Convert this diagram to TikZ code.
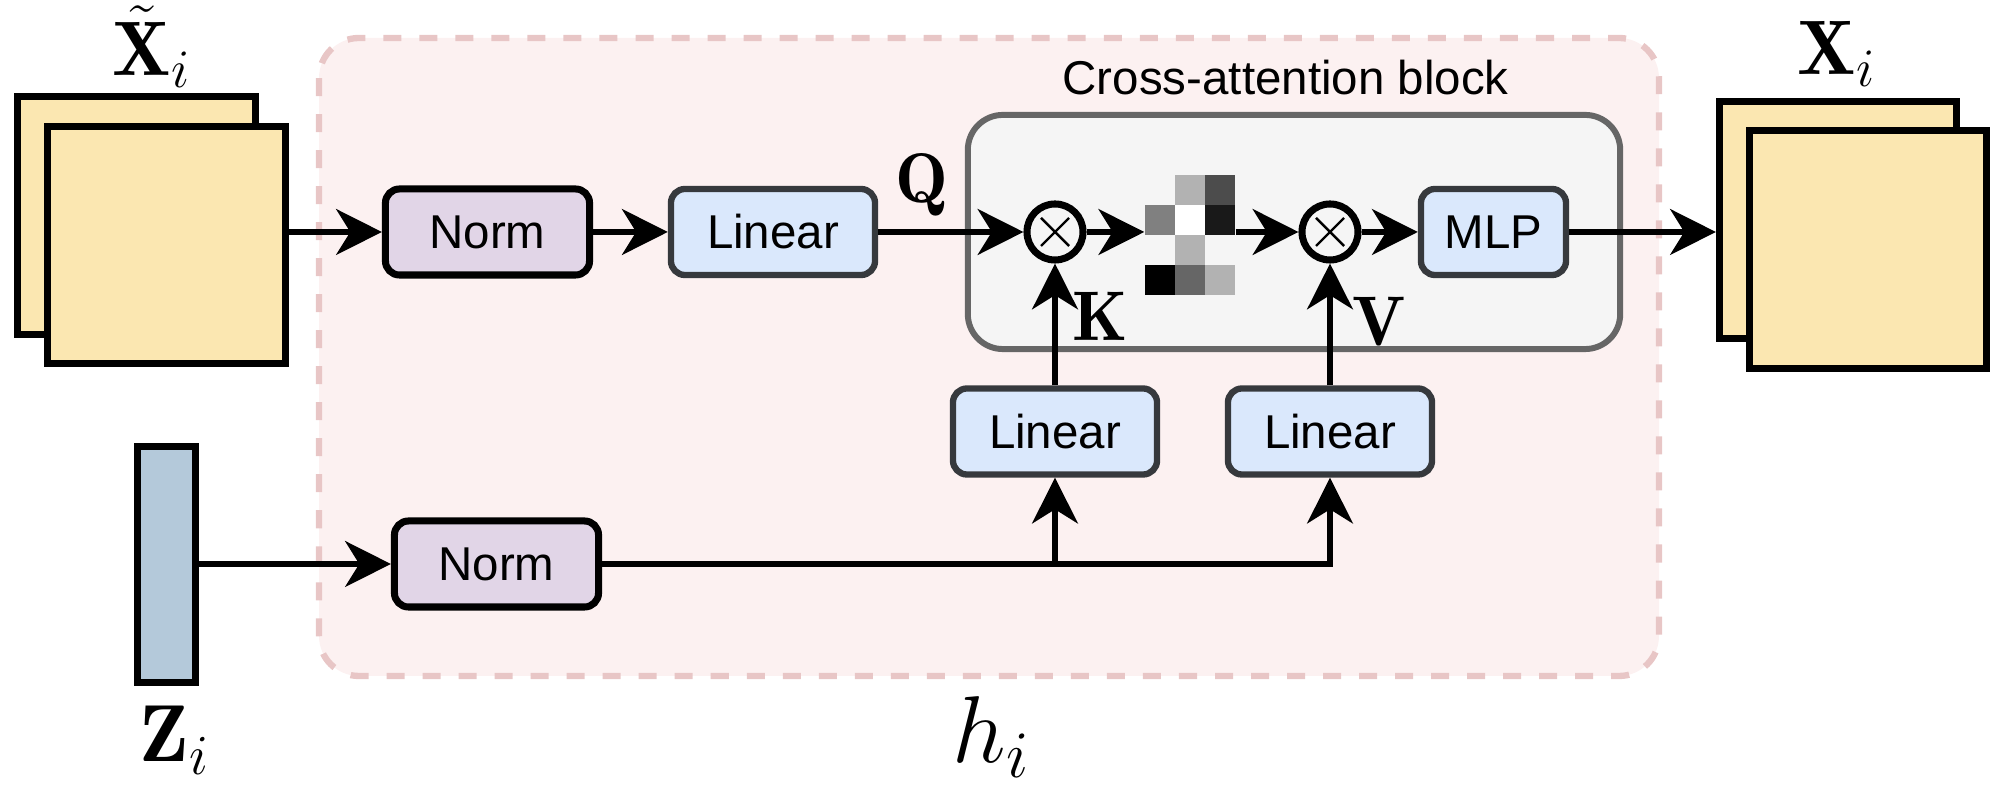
\RequirePackage{fix-cm}
\documentclass[tikz,border=0pt]{standalone}
\usepackage{fontspec}
\newfontfamily\lib{Liberation Sans}
\usetikzlibrary{arrows.meta,calc}
\definecolor{stackfill}{RGB}{251,231,177}
\definecolor{zfill}{RGB}{180,201,218}
\definecolor{normfill}{HTML}{E1D5E7}
\definecolor{linfill}{HTML}{DAE8FC}
\definecolor{lindraw}{HTML}{36393D}
\definecolor{crossfill}{HTML}{F5F5F5}
\definecolor{crossdraw}{HTML}{666666}
\definecolor{hfill}{HTML}{FCF1F1}
\definecolor{hdraw}{HTML}{E8C6C6}
\begin{document}
\begin{tikzpicture}[x=0.01cm,y=-0.01cm,
  box/.style={rectangle, rounded corners=4pt, inner sep=0pt, font=\lib\fontsize{13.5pt}{15pt}\selectfont},
  normbox/.style={box, fill=normfill, draw=black, line width=2pt, minimum width=2.04cm, minimum height=0.86cm},
  linbox/.style={box, fill=linfill, draw=lindraw, line width=1.8pt, minimum width=2.04cm, minimum height=0.86cm},
  arr/.style={-{Stealth[length=13pt,width=13pt,inset=4pt]}, line width=1.7pt},
  stackbox/.style={draw=black, line width=2pt, fill=stackfill, inner sep=0pt, minimum width=2.37cm, minimum height=2.37cm},
  mathlbl/.style={inner sep=0pt, anchor=base west},
  prod/.style={circle, draw=black, fill=crossfill, line width=2pt, inner sep=0pt, minimum size=0.56cm},
  xline/.style={line width=0.7pt}
]
\useasboundingbox (0,0) rectangle (1999,786);

% h_i dashed region
\draw[hdraw, fill=hfill, line width=1.8pt, dash pattern=on 0.18cm off 0.18cm, rounded corners=0.4cm]
  (319,38) rectangle (1659,676);

% cross-attention block
\node[draw=crossdraw, fill=crossfill, line width=1.7pt, rounded corners=0.35cm, inner sep=0pt,
  minimum width=6.52cm, minimum height=2.34cm] (cab) at (1294,232) {};
\node[anchor=base west, inner sep=0pt, font=\lib\fontsize{13.5pt}{16pt}\selectfont] (cablbl) at (1062,95) {Cross-attention block};

% left stacks
\node[stackbox] (sLb) at (136.5,215.5) {};
\node[stackbox] (sLf) at (166.5,245) {};
\node[mathlbl, font=\fontsize{22pt}{24pt}\selectfont] (xtl) at (112,76) {$\tilde{\mathbf{X}}_i$};

% right stacks
\node[stackbox] (sRb) at (1838,220) {};
\node[stackbox] (sRf) at (1868,249.5) {};
\node[mathlbl, font=\fontsize{22pt}{24pt}\selectfont] (xl) at (1797,75) {$\mathbf{X}_i$};

% z bar
\node[draw=black, line width=2pt, fill=zfill, inner sep=0pt, minimum width=0.58cm, minimum height=2.36cm] (zbar) at (166.5,564.5) {};
\node[mathlbl, font=\fontsize{23pt}{25pt}\selectfont] (zl) at (139,762) {$\mathbf{Z}_i$};

% h label
\node[mathlbl, font=\fontsize{27pt}{29pt}\selectfont] (hl) at (952,763) {$h_i$};

% top row
\node[normbox] (norm1) at (487.5,232) {Norm};
\node[linbox] (lin1) at (773,232) {Linear};
\node[prod] (c1) at (1055,232) {};
\node[inner sep=0pt, minimum width=0.9cm, minimum height=1.2cm] (attn) at (1190,235) {};
\node[prod] (c2) at (1330,232) {};
\node[linbox, minimum width=1.45cm] (mlp) at (1493.5,232) {MLP};

% attention matrix cells
\fill[black!30] (1175,175) rectangle (1205,205);
\fill[black!70] (1205,175) rectangle (1235,205);
\fill[black!50] (1145,205) rectangle (1175,235);
\fill[white]    (1175,205) rectangle (1205,235);
\fill[black!90] (1205,205) rectangle (1235,235);
\fill[black!30] (1175,235) rectangle (1205,265);
\fill[black]    (1145,265) rectangle (1175,295);
\fill[black!60] (1175,265) rectangle (1205,295);
\fill[black!30] (1205,265) rectangle (1235,295);

% crosses in product circles
\foreach \c in {c1,c2}{
  \draw[xline] ([shift={(-0.14cm,-0.14cm)}]\c.center) -- ([shift={(0.14cm,0.14cm)}]\c.center);
  \draw[xline] ([shift={(-0.14cm,0.14cm)}]\c.center) -- ([shift={(0.14cm,-0.14cm)}]\c.center);
}

% bottom row
\node[normbox] (norm2) at (496.5,564) {Norm};
\node[linbox] (linK) at (1055,431.5) {Linear};
\node[linbox] (linV) at (1330,431.5) {Linear};

% labels Q K V
\node[mathlbl, font=\fontsize{20pt}{22pt}\selectfont] (ql) at (895,203) {$\mathbf{Q}$};
\node[mathlbl, font=\fontsize{20pt}{22pt}\selectfont] (kl) at (1072,341) {$\mathbf{K}$};
\node[mathlbl, font=\fontsize{20pt}{22pt}\selectfont] (vl) at (1352,346) {$\mathbf{V}$};

% connectors
\draw[arr] (norm1.west -| sLf.east) -- (norm1.west);
\draw[arr] (norm1.east) -- (lin1.west);
\draw[arr] (lin1.east) -- (c1);
\draw[arr] (c1) -- (c1 -| attn.west);
\draw[arr] (c1 -| attn.east) -- (c2);
\draw[arr] (c2) -- (mlp.west);
\draw[arr] (mlp.east) -- (mlp.east -| sRb.west);

\draw[arr] (zbar.east |- norm2.west) -- (norm2.west);
\draw[arr, rounded corners=0pt] (norm2.east) -| (linV.south);
\draw[arr] (norm2.east -| linK.south) -- (linK.south);
\draw[arr] (linK.north) -- (c1);
\draw[arr] (linV.north) -- (c2);
\end{tikzpicture}
\end{document}
